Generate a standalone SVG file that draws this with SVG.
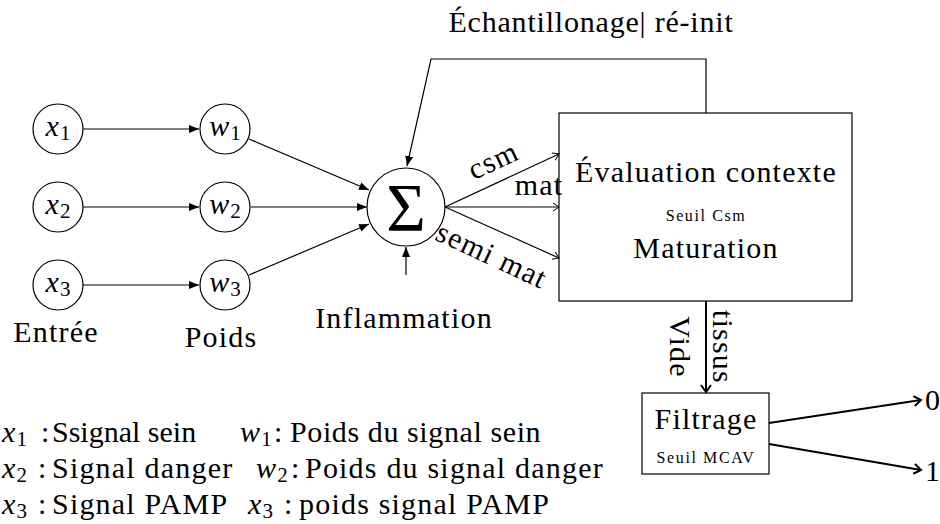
<svg xmlns="http://www.w3.org/2000/svg" width="940" height="524" viewBox="0 0 940 524">
<style>
text{font-family:"Liberation Serif","Times New Roman",serif;fill:#000;font-size:30px;letter-spacing:1.2px}
.i{font-style:italic}
.sub{font-size:21px;font-style:normal;letter-spacing:0}
.sm{font-size:16px;letter-spacing:1.6px}
.ln{fill:none;stroke:#000;stroke-width:1.2}
.tk{fill:none;stroke:#000;stroke-width:2}
.nd{fill:#fff;stroke:#000;stroke-width:1.2}
</style>
<defs>
<marker id="fa" markerUnits="userSpaceOnUse" markerWidth="12" markerHeight="10" refX="10" refY="4" orient="auto">
<path d="M0,0 L10,4 L0,8 z" fill="#000"/>
</marker>
<marker id="oa" markerUnits="userSpaceOnUse" markerWidth="10" markerHeight="12" refX="7" refY="5" orient="auto">
<path d="M1,1 L7,5 L1,9" fill="none" stroke="#000" stroke-width="1"/>
</marker>
<marker id="ta" markerUnits="userSpaceOnUse" markerWidth="12" markerHeight="14" refX="9" refY="6" orient="auto">
<path d="M2,1 L9,6 L2,11" fill="none" stroke="#000" stroke-width="2"/>
</marker>
</defs>

<g id="x1"><circle class="nd" cx="58" cy="129" r="25"/><text x="58" y="136" text-anchor="middle"><tspan class="i">x</tspan><tspan class="sub" dy="4">1</tspan></text></g>
<g id="x2"><circle class="nd" cx="58" cy="207" r="25"/><text x="58" y="214" text-anchor="middle"><tspan class="i">x</tspan><tspan class="sub" dy="4">2</tspan></text></g>
<g id="x3"><circle class="nd" cx="58" cy="285" r="25"/><text x="58" y="292" text-anchor="middle"><tspan class="i">x</tspan><tspan class="sub" dy="4">3</tspan></text></g>
<g id="w1"><circle class="nd" cx="225" cy="129" r="25"/><text x="225" y="136" text-anchor="middle"><tspan class="i">w</tspan><tspan class="sub" dy="4">1</tspan></text></g>
<g id="w2"><circle class="nd" cx="225" cy="207" r="25"/><text x="225" y="214" text-anchor="middle"><tspan class="i">w</tspan><tspan class="sub" dy="4">2</tspan></text></g>
<g id="w3"><circle class="nd" cx="225" cy="285" r="25"/><text x="225" y="292" text-anchor="middle"><tspan class="i">w</tspan><tspan class="sub" dy="4">3</tspan></text></g>
<g id="entree"><text x="56" y="342" text-anchor="middle">Entrée</text></g>
<g id="poids"><text x="221" y="347" text-anchor="middle">Poids</text></g>

<g id="sigma"><circle class="nd" cx="406" cy="207" r="39"/><text x="406" y="230" text-anchor="middle" style="font-size:68px;letter-spacing:0">Σ</text></g>
<g id="inflammation"><text x="404" y="328" text-anchor="middle">Inflammation</text></g>

<g id="evaluation">
<rect class="nd" x="559" y="113" width="293" height="188"/>
<text x="706" y="182" text-anchor="middle">Évaluation contexte</text>
<text class="sm" x="706" y="221" text-anchor="middle">Seuil Csm</text>
<text x="706" y="258" text-anchor="middle">Maturation</text>
</g>

<g id="filtrage">
<rect class="nd" x="642" y="393" width="127" height="81"/>
<text x="706" y="429" text-anchor="middle">Filtrage</text>
<text class="sm" x="706" y="463" text-anchor="middle">Seuil MCAV</text>
</g>

<g id="connectors">
<line class="ln" x1="83" y1="129" x2="199" y2="129" marker-end="url(#fa)"/>
<line class="ln" x1="83" y1="207" x2="199" y2="207" marker-end="url(#fa)"/>
<line class="ln" x1="83" y1="285" x2="199" y2="285" marker-end="url(#fa)"/>
<line class="ln" x1="249" y1="139" x2="369" y2="190" marker-end="url(#fa)"/>
<line class="ln" x1="251" y1="207" x2="367" y2="207" marker-end="url(#fa)"/>
<line class="ln" x1="249" y1="275" x2="369" y2="224" marker-end="url(#fa)"/>
<polyline class="ln" points="706,113 706,59 431,59 407,166" marker-end="url(#fa)"/>
<line class="ln" x1="406" y1="275" x2="406" y2="247" marker-end="url(#fa)"/>
<line class="ln" x1="445" y1="207" x2="559" y2="154" marker-end="url(#oa)"/>
<line class="ln" x1="445" y1="207" x2="559" y2="207" marker-end="url(#oa)"/>
<line class="ln" x1="445" y1="207" x2="559" y2="258" marker-end="url(#oa)"/>
<line class="tk" x1="706" y1="301" x2="706" y2="392" marker-end="url(#ta)"/>
<line class="tk" x1="769" y1="423" x2="921" y2="400" marker-end="url(#ta)"/>
<line class="tk" x1="769" y1="444" x2="921" y2="470" marker-end="url(#ta)"/>
<text x="591" y="32" text-anchor="middle" style="letter-spacing:0.8px">Échantillonage| ré-init</text>
<text transform="translate(494,162) rotate(-25)" y="8" text-anchor="middle">csm</text>
<text x="539" y="195" text-anchor="middle">mat</text>
<text transform="translate(491,257) rotate(25)" y="8" text-anchor="middle">semi mat</text>
<text transform="translate(680,347) rotate(90)" y="10" text-anchor="middle">Vide</text>
<text transform="translate(723,347) rotate(90)" y="10" text-anchor="middle">tissus</text>
<text x="925" y="410">0</text>
<text x="925" y="481">1</text>
</g>

<g id="legend">
<text x="2" y="442"><tspan class="i">x</tspan><tspan class="sub" dy="4">1</tspan></text>
<text x="41" y="442">:</text>
<text x="52" y="442" style="letter-spacing:0">Ssignal sein</text>
<text x="240" y="442"><tspan class="i">w</tspan><tspan class="sub" dy="4">1</tspan></text>
<text x="274" y="442">:</text>
<text x="290" y="442" style="letter-spacing:0.6px">Poids du signal sein</text>
<text x="2" y="478"><tspan class="i">x</tspan><tspan class="sub" dy="4">2</tspan></text>
<text x="38" y="478">:</text>
<text x="52" y="478">Signal danger</text>
<text x="256" y="478"><tspan class="i">w</tspan><tspan class="sub" dy="4">2</tspan></text>
<text x="291" y="478">:</text>
<text x="305" y="478">Poids du signal danger</text>
<text x="2" y="514"><tspan class="i">x</tspan><tspan class="sub" dy="4">3</tspan></text>
<text x="38" y="514">:</text>
<text x="52" y="514">Signal PAMP</text>
<text x="248" y="514"><tspan class="i">x</tspan><tspan class="sub" dy="4">3</tspan></text>
<text x="284" y="514">:</text>
<text x="299" y="514">poids signal PAMP</text>
</g>
</svg>
